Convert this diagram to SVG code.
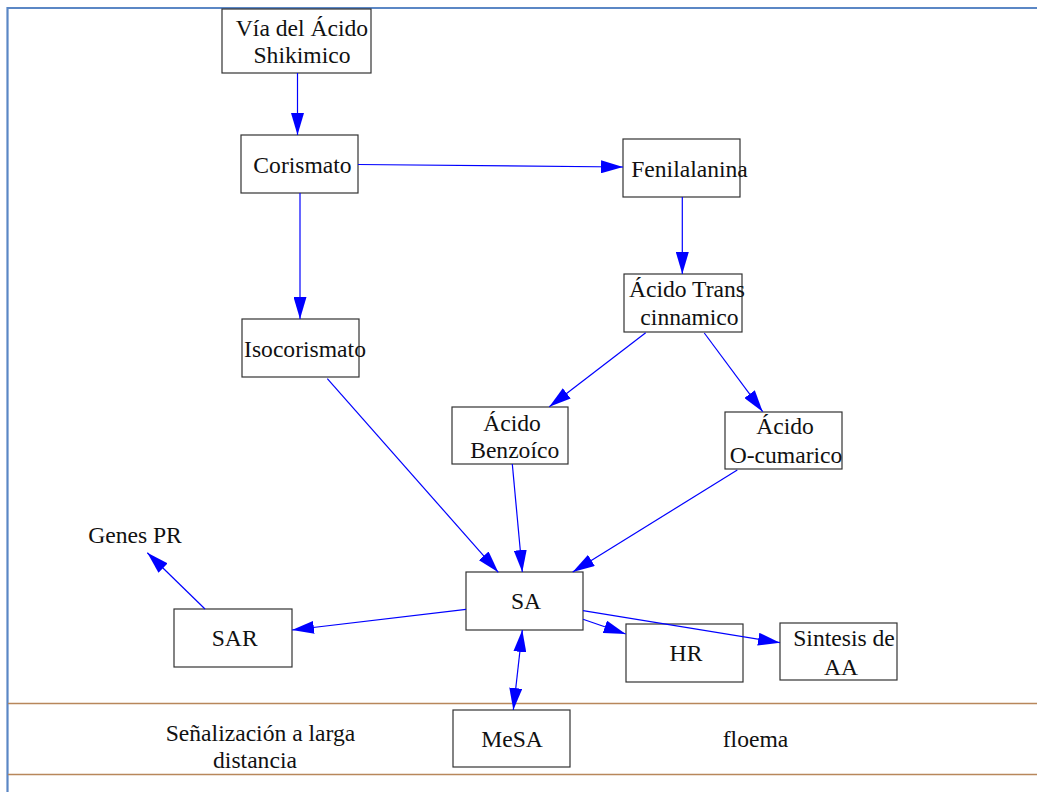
<svg xmlns="http://www.w3.org/2000/svg" width="1037" height="792" viewBox="0 0 1037 792">
<style>
.box{fill:#fff;stroke:#333;stroke-width:1.2}
.t{font-family:"Liberation Serif","Times New Roman",serif;font-size:23.6px;fill:#111;text-anchor:middle}
.c{stroke:#0000ff;stroke-width:1.2;fill:none;marker-end:url(#ah)}
.frame{stroke:#5b87c5;stroke-width:2.2;fill:none}
.band{stroke:#b8875b;stroke-width:1.5}
</style>
<defs>
<marker id="ah" markerUnits="userSpaceOnUse" markerWidth="22" markerHeight="13" viewBox="0 0 22 13" refX="22" refY="6.5" orient="auto-start-reverse">
<path d="M0,0 L22,6.5 L0,13 Z" fill="#0000ff"/>
</marker>
</defs>
<rect width="1037" height="792" fill="#fff"/>
<g id="frame">
<path class="frame" d="M7.5,792 V8 H1037"/>
<line class="band" x1="8" y1="703.5" x2="1037" y2="703.5"/>
<line class="band" x1="8" y1="774.5" x2="1037" y2="774.5"/>
</g>
<g id="via">
<rect class="box" x="222" y="9" width="149" height="64"/>
<text class="t" x="302" y="36">Vía del Ácido</text>
<text class="t" x="302" y="63">Shikimico</text>
</g>
<g id="corismato">
<rect class="box" x="241" y="135" width="117" height="58"/>
<text class="t" x="302.5" y="173">Corismato</text>
</g>
<g id="fenilalanina">
<rect class="box" x="623" y="139" width="117" height="58"/>
<text class="t" x="689.5" y="177">Fenilalanina</text>
</g>
<g id="trans">
<rect class="box" x="624" y="274" width="118" height="58"/>
<text class="t" x="687" y="297">Ácido Trans</text>
<text class="t" x="689.5" y="325">cinnamico</text>
</g>
<g id="isocorismato">
<rect class="box" x="242" y="319" width="117" height="58"/>
<text class="t" x="305" y="357">Isocorismato</text>
</g>
<g id="benzoico">
<rect class="box" x="452" y="407" width="116" height="57"/>
<text class="t" x="512" y="431">Ácido</text>
<text class="t" x="514.7" y="458">Benzoíco</text>
</g>
<g id="ocumarico">
<rect class="box" x="725" y="412" width="117" height="57"/>
<text class="t" x="785" y="434">Ácido</text>
<text class="t" x="786" y="463">O-cumarico</text>
</g>
<g id="sa">
<rect class="box" x="466" y="572" width="117" height="58"/>
<text class="t" x="526" y="609">SA</text>
</g>
<g id="sar">
<rect class="box" x="174" y="609" width="118" height="58"/>
<text class="t" x="234.7" y="646">SAR</text>
</g>
<g id="hr">
<rect class="box" x="626" y="624" width="117" height="58"/>
<text class="t" x="686" y="661">HR</text>
</g>
<g id="sintesis">
<rect class="box" x="780" y="623" width="117" height="57"/>
<text class="t" x="844" y="646">Sintesis de</text>
<text class="t" x="841" y="675">AA</text>
</g>
<g id="mesa">
<rect class="box" x="453" y="710" width="117" height="57"/>
<text class="t" x="512" y="747">MeSA</text>
</g>
<g id="genespr">
<text class="t" x="135" y="543">Genes PR</text>
</g>
<g id="senalizacion">
<text class="t" x="260.5" y="741">Señalización a larga</text>
<text class="t" x="255" y="768">distancia</text>
</g>
<g id="floema">
<text class="t" x="755.5" y="747">floema</text>
</g>
<g id="connectors">
<line class="c" x1="297.5" y1="73" x2="297.5" y2="135"/>
<line class="c" x1="358" y1="164.5" x2="623" y2="167"/>
<line class="c" x1="300" y1="193" x2="300" y2="319"/>
<line class="c" x1="682.3" y1="197" x2="682.3" y2="274"/>
<line class="c" x1="645.7" y1="332.7" x2="549.3" y2="406.7"/>
<line class="c" x1="704.3" y1="333" x2="762.7" y2="411.7"/>
<line class="c" x1="327.3" y1="378.7" x2="498.3" y2="572.3"/>
<line class="c" x1="512.3" y1="464" x2="522.3" y2="572"/>
<line class="c" x1="737.3" y1="470" x2="572.7" y2="572"/>
<line class="c" x1="466" y1="609.3" x2="292" y2="630"/>
<line class="c" x1="205" y1="609" x2="147.3" y2="552.7"/>
<line class="c" x1="583" y1="619.3" x2="625.7" y2="634"/>
<line class="c" x1="583" y1="610.7" x2="780" y2="642.7"/>
<line class="c" x1="522.3" y1="630" x2="513.3" y2="710" style="marker-start:url(#ah)"/>
</g>
</svg>
